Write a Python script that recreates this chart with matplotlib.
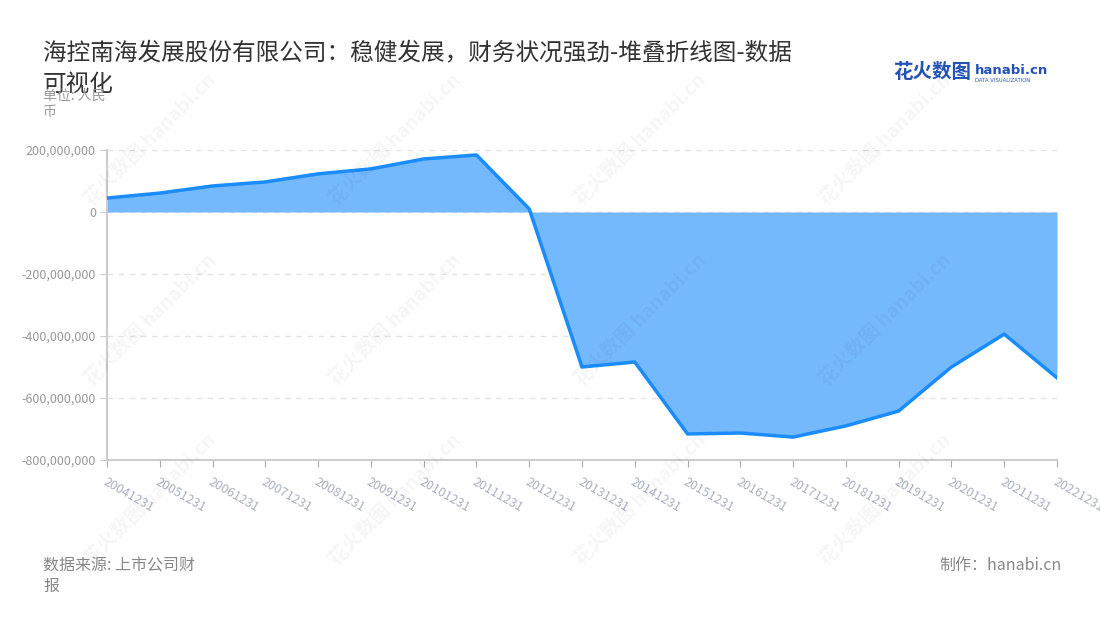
import matplotlib
matplotlib.use("Agg")
import matplotlib.pyplot as plt
from matplotlib.ticker import FuncFormatter, FixedLocator

plt.rcParams['font.family'] = ['Noto Sans CJK SC', 'DejaVu Sans']

dates = ["20041231", "20051231", "20061231", "20071231", "20081231",
         "20091231", "20101231", "20111231", "20121231", "20131231",
         "20141231", "20151231", "20161231", "20171231", "20181231",
         "20191231", "20201231", "20211231", "20221231"]
values = [45e6, 61e6, 84e6, 97e6, 123e6, 139e6, 171e6, 184e6, 10e6,
          -500e6, -484e6, -716e6, -713e6, -726e6, -690e6, -642e6,
          -500e6, -394e6, -535e6]
y_ticks = [200e6, 0, -200e6, -400e6, -600e6, -800e6]

title = "海控南海发展股份有限公司：稳健发展，财务状况强劲-堆叠折线图-数据\n可视化"
unit = "单位: 人民\n币"
source = "数据来源: 上市公司财\n报"
maker = "制作：hanabi.cn"

fig = plt.figure(figsize=(11, 6.2), dpi=100)
ax = fig.add_axes([107 / 1100, 1 - 460 / 620, 950 / 1100, 310 / 620])

x = list(range(len(dates)))
ax.fill_between(x, values, 0, color="#74b8fd", linewidth=0, zorder=2)
ax.plot(x, values, color="#1a8cff", linewidth=2.5, zorder=3)

ax.set_xlim(0, len(dates) - 1)
ax.set_ylim(-800e6, 200e6)
ax.yaxis.set_major_locator(FixedLocator(y_ticks))
ax.yaxis.set_major_formatter(FuncFormatter(lambda v, p: f"{int(v):,}"))
ax.set_xticks(x)
ax.set_xticklabels(dates, rotation=-30, ha="left", rotation_mode="anchor")

for s in ["top", "right"]:
    ax.spines[s].set_visible(False)
for s in ["left", "bottom"]:
    ax.spines[s].set_color("#cccccc")
    ax.spines[s].set_linewidth(1.5)

ax.grid(axis="y", linestyle=(0, (4, 4)), color="#e3e3e3", linewidth=1, zorder=1)
ax.tick_params(axis="y", colors="#cccccc", labelcolor="#999999",
               labelsize=9, length=5, pad=3)
ax.tick_params(axis="x", colors="#aaaaaa", labelcolor="#aab0c0",
               labelsize=9, length=5, pad=6)

# watermarks
for wx in [150, 395, 640, 885]:
    for wy in [140, 320, 500]:
        fig.text(wx / 1100, 1 - wy / 620, "花火数图 hanabi.cn", rotation=45,
                 fontsize=14, color="#000000", alpha=0.04, ha="center",
                 va="center", fontweight="bold")

fig.text(43 / 1100, 1 - 42 / 620, title, fontsize=17, color="#333333",
         va="top", ha="left", linespacing=1.45)
fig.text(43 / 1100, 1 - 89 / 620, unit, fontsize=10, color="#999999",
         va="top", ha="left", linespacing=1.2)
fig.text(43 / 1100, 1 - 557 / 620, source, fontsize=11.5, color="#888888",
         va="top", ha="left", linespacing=1.3)
fig.text(1062 / 1100, 1 - 557 / 620, maker, fontsize=11.5, color="#888888",
         va="top", ha="right")

# logo
fig.text(893 / 1100, 1 - 73 / 620, "花火数图", fontsize=14, color="#2452b5",
         fontweight="bold", va="center", ha="left")
fig.text(975 / 1100, 1 - 70 / 620, "hanabi.cn", fontsize=9.5, color="#2452b5",
         fontweight="bold", va="center", ha="left", family="DejaVu Sans")
fig.text(975 / 1100, 1 - 80 / 620, "DATA VISUALIZATION", fontsize=3.8,
         color="#2452b5", va="center", ha="left", family="DejaVu Sans")

fig.savefig("out.png", dpi=100)
